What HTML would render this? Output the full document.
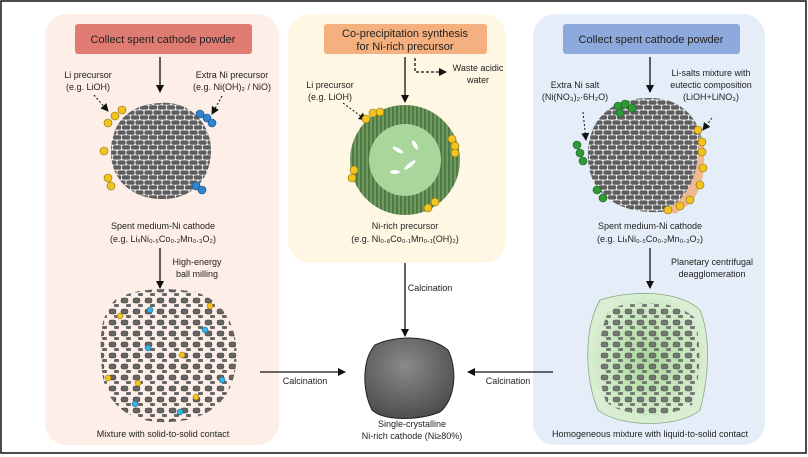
<!DOCTYPE html>
<html><head><meta charset="utf-8"><style>
body{margin:0;background:#fff;}
svg{display:block;font-family:"Liberation Sans",sans-serif;}
text{font-size:9px;fill:#222;}
</style></head><body>
<svg width="808" height="457" viewBox="0 0 808 457" xmlns="http://www.w3.org/2000/svg">
<defs>
<marker id="ah" markerWidth="8" markerHeight="8" refX="7" refY="4" orient="auto" markerUnits="userSpaceOnUse"><path d="M0,0 L8,4 L0,8 Z" fill="#111"/></marker>
<radialGradient id="gg" cx="50%" cy="50%" r="50%"><stop offset="0" stop-color="#a8d89a"/><stop offset="1" stop-color="#d9eed2"/></radialGradient>
<radialGradient id="sc" cx="45%" cy="35%" r="70%"><stop offset="0" stop-color="#8a8a8a"/><stop offset="1" stop-color="#4a4a4a"/></radialGradient>
<pattern id="grain" width="9" height="10" patternUnits="userSpaceOnUse"><rect width="9" height="10" fill="#fff"/><rect x="0.4" y="0.4" width="8.2" height="4.3" rx="1.5" fill="#5e5e5e"/><rect x="-4" y="5.3" width="8.2" height="4.3" rx="1.5" fill="#5e5e5e"/><rect x="4.9" y="5.3" width="8.2" height="4.3" rx="1.5" fill="#5e5e5e"/></pattern>
<pattern id="frag" width="12" height="11" patternUnits="userSpaceOnUse"><rect x="1" y="1" width="7" height="5" rx="2" fill="#666" stroke="#333" stroke-width="0.5"/><rect x="6" y="7" width="5" height="3" rx="1" fill="#666"/></pattern>
<pattern id="spike" width="4" height="4" patternUnits="userSpaceOnUse"><rect width="4" height="4" fill="#6f9a62"/><rect width="2" height="4" fill="#4f7a44"/></pattern>
</defs>
<rect x="1" y="1" width="805" height="452" fill="#fff" stroke="#111" stroke-width="1.5"/>
<rect x="45" y="14" width="234" height="431" rx="22" fill="#fdeee7"/>
<rect x="288" y="14" width="218" height="249" rx="22" fill="#fef7e4"/>
<rect x="533" y="14" width="232" height="431" rx="22" fill="#e5eef8"/>
<rect x="75" y="24" width="177" height="30" rx="3" fill="#e07b72"/>
<text x="163" y="43" text-anchor="middle" style="font-size:11px">Collect spent cathode powder</text>
<rect x="324" y="24" width="163" height="30" rx="3" fill="#f4b07e"/>
<text x="405" y="37" text-anchor="middle" style="font-size:11px">Co-precipitation synthesis</text>
<text x="405" y="50" text-anchor="middle" style="font-size:11px">for Ni-rich precursor</text>
<rect x="563" y="24" width="177" height="30" rx="3" fill="#8ea9dc"/>
<text x="651" y="43" text-anchor="middle" style="font-size:11px">Collect spent cathode powder</text>
<g stroke="#111" stroke-width="1.3" fill="none">
<line x1="160" y1="57" x2="160" y2="92" marker-end="url(#ah)"/>
<line x1="160" y1="248" x2="160" y2="288" marker-end="url(#ah)"/>
<line x1="405" y1="57" x2="405" y2="102" marker-end="url(#ah)"/>
<path d="M415 58 V72 H446" stroke-dasharray="3,2" marker-end="url(#ah)"/>
<line x1="405" y1="263" x2="405" y2="336" marker-end="url(#ah)"/>
<line x1="650" y1="57" x2="650" y2="92" marker-end="url(#ah)"/>
<line x1="650" y1="248" x2="650" y2="288" marker-end="url(#ah)"/>
<line x1="260" y1="372" x2="345" y2="372" marker-end="url(#ah)"/>
<line x1="553" y1="372" x2="468" y2="372" marker-end="url(#ah)"/>
<g stroke-dasharray="2,2" stroke-width="1">
<line x1="94" y1="95" x2="108" y2="111" marker-end="url(#ah)"/>
<line x1="222" y1="96" x2="212" y2="114" marker-end="url(#ah)"/>
<line x1="343" y1="103" x2="366" y2="120" marker-end="url(#ah)"/>
<line x1="583" y1="112" x2="586" y2="140" marker-end="url(#ah)"/>
<line x1="712" y1="118" x2="703" y2="130" marker-end="url(#ah)"/>
</g>
</g>
<text x="88" y="78" text-anchor="middle">Li precursor</text><text x="88" y="90" text-anchor="middle">(e.g. LiOH)</text>
<text x="232" y="78" text-anchor="middle">Extra Ni precursor</text><text x="232" y="90" text-anchor="middle">(e.g. Ni(OH)₂ / NiO)</text>
<text x="478" y="71" text-anchor="middle">Waste acidic</text><text x="478" y="83" text-anchor="middle">water</text>
<text x="330" y="88" text-anchor="middle">Li precursor</text><text x="330" y="100" text-anchor="middle">(e.g. LiOH)</text>
<text x="575" y="88" text-anchor="middle">Extra Ni salt</text><text x="575" y="100" text-anchor="middle">(Ni(NO₃)₂·6H₂O)</text>
<text x="711" y="76" text-anchor="middle">Li-salts mixture with</text><text x="711" y="88" text-anchor="middle">eutectic composition</text><text x="711" y="100" text-anchor="middle">(LiOH+LiNO₃)</text>
<text x="163" y="229" text-anchor="middle">Spent medium-Ni cathode</text><text x="163" y="242" text-anchor="middle">(e.g. LiₓNi₀.₅Co₀.₂Mn₀.₃O₂)</text>
<text x="405" y="229" text-anchor="middle">Ni-rich precursor</text><text x="405" y="242" text-anchor="middle">(e.g. Ni₀.₈Co₀.₁Mn₀.₁(OH)₂)</text>
<text x="650" y="229" text-anchor="middle">Spent medium-Ni cathode</text><text x="650" y="242" text-anchor="middle">(e.g. LiₓNi₀.₅Co₀.₂Mn₀.₃O₂)</text>
<text x="197" y="265" text-anchor="middle">High-energy</text><text x="197" y="277" text-anchor="middle">ball milling</text>
<text x="712" y="265" text-anchor="middle">Planetary centrifugal</text><text x="712" y="277" text-anchor="middle">deagglomeration</text>
<text x="430" y="291" text-anchor="middle">Calcination</text>
<text x="305" y="384" text-anchor="middle">Calcination</text>
<text x="508" y="384" text-anchor="middle">Calcination</text>
<text x="163" y="437" text-anchor="middle">Mixture with solid-to-solid contact</text>
<text x="412" y="427" text-anchor="middle">Single-crystalline</text><text x="412" y="439" text-anchor="middle">Ni-rich cathode (Ni≥80%)</text>
<text x="650" y="437" text-anchor="middle">Homogeneous mixture with liquid-to-solid contact</text>
<path d="M160 103 C190 100 212 125 211 152 C210 182 190 200 160 199 C130 198 110 178 111 150 C112 120 132 104 160 103Z" fill="url(#grain)"/>
<g fill="#f3c320" stroke="#8a6a00" stroke-width="0.6">
<circle cx="115" cy="116" r="4"/><circle cx="122" cy="110" r="4"/><circle cx="108" cy="123" r="4"/>
<circle cx="104" cy="151" r="4"/><circle cx="108" cy="178" r="4"/><circle cx="111" cy="186" r="4"/>
</g>
<g fill="#2f86d0" stroke="#10457a" stroke-width="0.6">
<circle cx="200" cy="114" r="4"/><circle cx="207" cy="118" r="4"/><circle cx="212" cy="123" r="4"/>
<circle cx="196" cy="186" r="4"/><circle cx="202" cy="190" r="4"/>
</g>
<circle cx="405" cy="160" r="55" fill="url(#spike)"/>
<circle cx="405" cy="160" r="36" fill="#a9d69a"/>
<g fill="#fff"><ellipse cx="398" cy="150" rx="6" ry="2" transform="rotate(30 398 150)"/><ellipse cx="410" cy="165" rx="7" ry="2" transform="rotate(-40 410 165)"/><ellipse cx="395" cy="172" rx="5" ry="2"/><ellipse cx="415" cy="145" rx="5" ry="2" transform="rotate(60 415 145)"/></g>
<g fill="#f3c320" stroke="#8a6a00" stroke-width="0.6">
<circle cx="366" cy="119" r="4"/><circle cx="373" cy="113" r="4"/><circle cx="380" cy="112" r="4"/>
<circle cx="452" cy="139" r="4"/><circle cx="455" cy="146" r="4"/><circle cx="455" cy="153" r="4"/>
<circle cx="352" cy="178" r="4"/><circle cx="354" cy="170" r="4"/>
<circle cx="428" cy="208" r="4"/><circle cx="435" cy="202" r="4"/>
</g>
<path d="M650 98 C690 98 705 130 704 160 C703 190 690 210 660 212 C620 214 590 195 588 160 C586 120 610 98 650 98Z" fill="url(#grain)"/>
<path d="M700 135 C708 160 705 190 688 205 L675 214 L665 210 C690 198 700 170 698 140Z" fill="#f0b890"/>
<g fill="#f3c320" stroke="#8a6a00" stroke-width="0.6">
<circle cx="698" cy="130" r="4"/><circle cx="702" cy="142" r="4"/><circle cx="702" cy="152" r="4"/><circle cx="703" cy="168" r="4"/><circle cx="700" cy="185" r="4"/><circle cx="690" cy="200" r="4"/><circle cx="680" cy="206" r="4"/><circle cx="668" cy="210" r="4"/>
</g>
<g fill="#2e9a38" stroke="#145a1a" stroke-width="0.6">
<circle cx="618" cy="106" r="4"/><circle cx="625" cy="104" r="4"/><circle cx="632" cy="108" r="4"/><circle cx="620" cy="113" r="4"/>
<circle cx="577" cy="145" r="4"/><circle cx="580" cy="153" r="4"/><circle cx="583" cy="161" r="4"/>
<circle cx="597" cy="190" r="4"/><circle cx="603" cy="198" r="4"/>
</g>
<path d="M115 300 C130 290 160 286 195 292 C225 300 240 330 236 365 C232 400 210 420 170 422 C130 424 105 405 102 370 C99 340 100 315 115 300Z" fill="url(#frag)"/>
<g fill="#f3c320" stroke="#8a6a00" stroke-width="0.5"><circle cx="120" cy="316" r="3"/><circle cx="182" cy="355" r="3"/><circle cx="108" cy="378" r="3"/><circle cx="138" cy="383" r="3"/><circle cx="210" cy="306" r="3"/><circle cx="196" cy="397" r="3"/></g>
<g fill="#35b5e6" stroke="#10577a" stroke-width="0.5"><circle cx="150" cy="310" r="3"/><circle cx="148" cy="348" r="3"/><circle cx="222" cy="380" r="3"/><circle cx="135" cy="404" r="3"/><circle cx="180" cy="412" r="3"/><circle cx="205" cy="330" r="3"/></g>
<path d="M600 300 C630 290 680 290 700 310 C712 340 708 380 700 410 C680 428 620 428 598 410 C585 380 583 330 600 300Z" fill="url(#gg)" stroke="#8aa888" stroke-width="0.8"/>
<path d="M610 308 C640 300 675 300 695 318 C702 350 700 380 692 405 C670 418 625 418 606 402 C596 375 596 335 610 308Z" fill="url(#frag)" opacity="0.85"/>
<path d="M375 345 C395 335 430 335 448 350 C458 370 455 400 440 412 C420 420 385 422 372 410 C362 390 362 360 375 345Z" fill="url(#sc)" stroke="#222" stroke-width="1"/>
</svg>
</body></html>
